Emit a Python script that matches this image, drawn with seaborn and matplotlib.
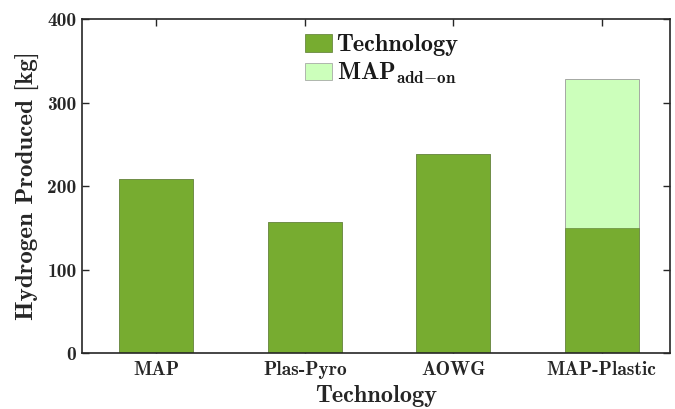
import matplotlib
matplotlib.use("Agg")
import matplotlib.pyplot as plt
import seaborn as sns
import pandas as pd
from matplotlib.patches import Patch

# Hydrogen produced per technology [kg]
technologies = ["MAP", "Plas-Pyro", "AOWG", "MAP-Plastic"]
technology_kg = [209, 157, 238, 150]
map_addon_kg = [0, 0, 0, 178]

dark_green = "#77AC30"
light_green = "#CCFFBB"

sns.set_theme(style="white")
plt.rcParams["font.family"] = ["cmb10", "DejaVu Serif"]
plt.rcParams["mathtext.fontset"] = "cm"
plt.rcParams["axes.unicode_minus"] = False

df = pd.DataFrame({
    "tech": technologies,
    "base": technology_kg,
    "total": [a + b for a, b in zip(technology_kg, map_addon_kg)],
})

fig = plt.figure(figsize=(6.75, 4.09), dpi=100)
ax = fig.add_axes([0.1215, 0.137, 0.871, 0.816])

# stacked bars: full height in light green, technology share in dark green on top
sns.barplot(data=df, x="tech", y="total", color=light_green, saturation=1,
            width=0.5, edgecolor="#9a9a9a", linewidth=0.6, ax=ax)
sns.barplot(data=df, x="tech", y="base", color=dark_green, saturation=1,
            width=0.5, edgecolor="#5a7a30", linewidth=0.4, ax=ax)

ax.set_ylim(0, 400)
ax.set_xlim(-0.5, 3.46)
ax.set_yticks([0, 100, 200, 300, 400])
ax.set_xlabel("Technology", fontsize=17.5, color="#262626", labelpad=4)
ax.set_ylabel("Hydrogen Produced [kg]", fontsize=18, color="#262626", labelpad=5)

for side in ["left", "right", "top", "bottom"]:
    ax.spines[side].set_visible(True)
    ax.spines[side].set_color("#262626")
    ax.spines[side].set_linewidth(1.2)

ax.tick_params(axis="both", direction="in", length=5, width=1.0,
               color="#262626", labelcolor="#262626", labelsize=14,
               top=True, right=True, left=True, bottom=True)
ax.tick_params(axis="x", pad=6)
ax.tick_params(axis="y", pad=4)

handles = [
    Patch(facecolor=dark_green, edgecolor="#5a7a30", linewidth=0.5),
    Patch(facecolor=light_green, edgecolor="#9a9a9a", linewidth=0.5),
]
labels = ["Technology", r"MAP$_{\mathbf{add{-}on}}$"]
leg = ax.legend(handles, labels, loc="upper center", bbox_to_anchor=(0.51, 1.0),
                frameon=False, fontsize=17.5, handlelength=1.1, handleheight=0.75,
                handletextpad=0.2, labelspacing=0.2, borderaxespad=0.2)
for t in leg.get_texts():
    t.set_color("#1a1a1a")

fig.savefig("out.png", dpi=100)
